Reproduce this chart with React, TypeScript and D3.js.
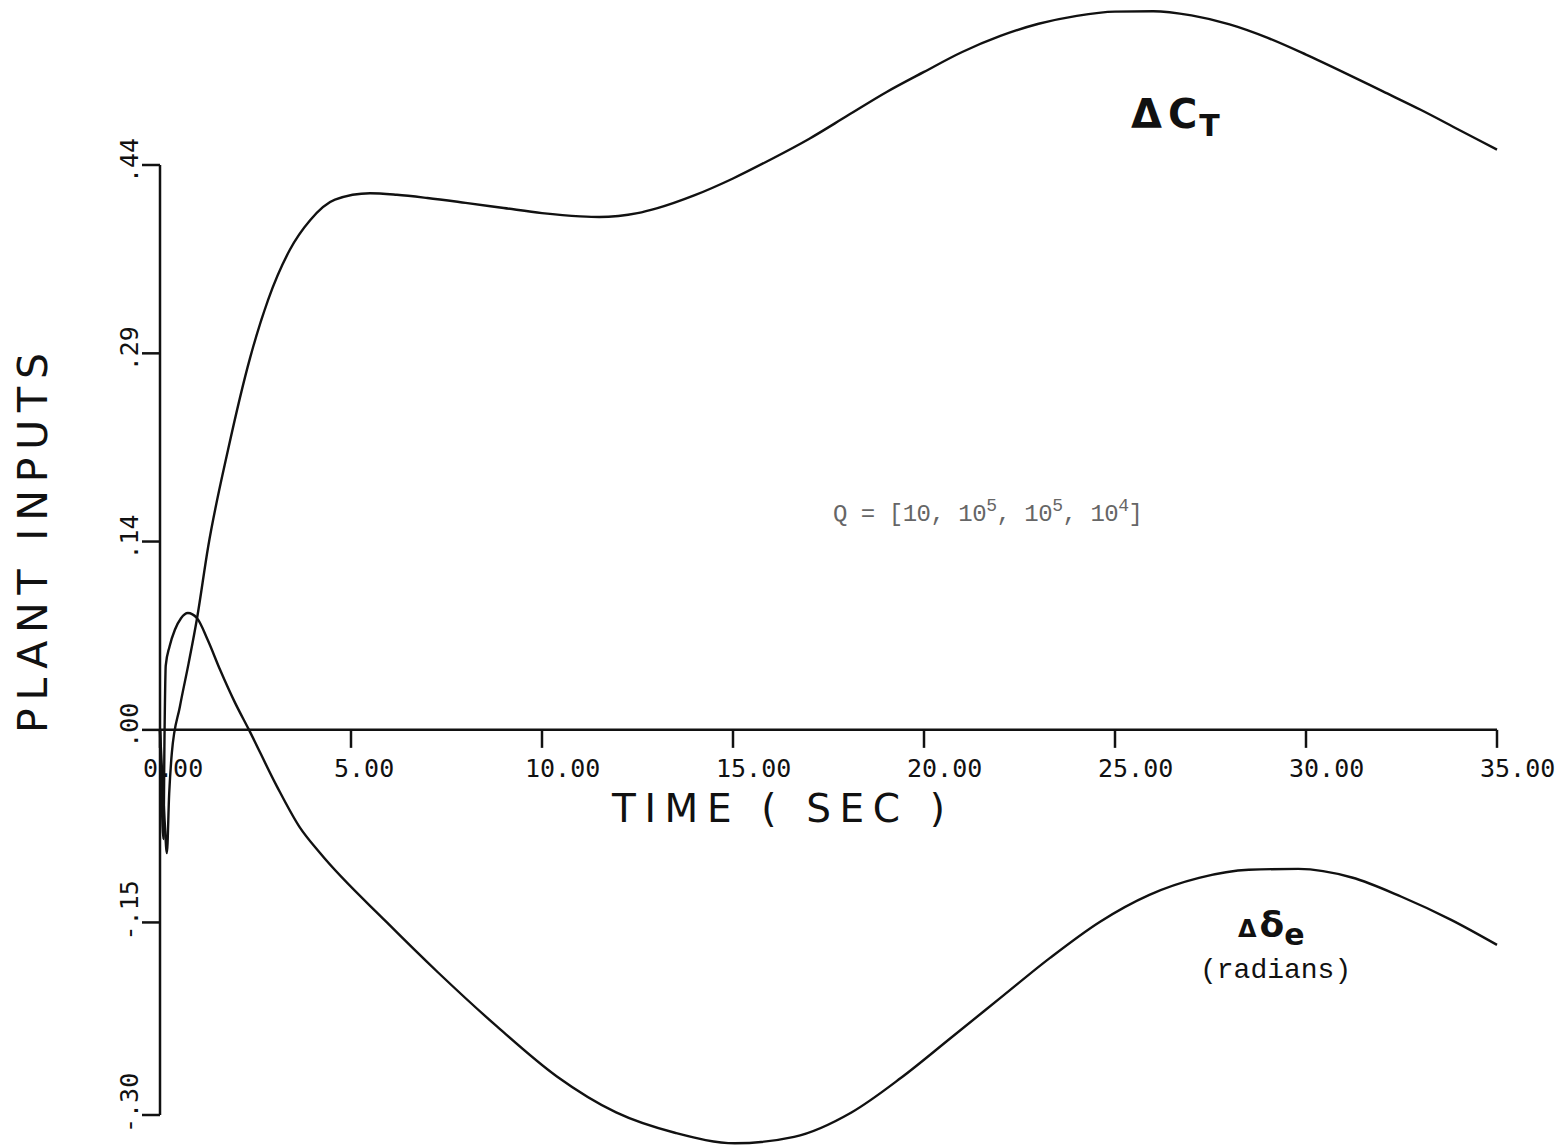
import React from "react";
import * as d3 from "d3";

// Time samples (s) and values for the thrust-coefficient input ΔC_T
const ctTime = [0, 0.05, 0.12, 0.18, 0.24, 0.31, 0.52, 0.75, 0.97, 1.26, 1.78, 2.36, 2.83, 3.4, 3.93, 4.58, 5.5, 6.2, 7.0, 8.0, 9.0, 10.0, 11.0, 11.5, 12.0, 12.5, 13.0, 14.0, 15.0, 16.0, 17.0, 18.0, 19.0, 20.0, 21.0, 22.0, 23.0, 24.0, 25.0, 26.0, 27.0, 28.0, 29.0, 30.0, 31.0, 32.0, 33.0, 34.0, 35.0];
const ctValue = [0, -0.03, -0.07, -0.096, -0.05, -0.018, 0.018, 0.052, 0.087, 0.1425, 0.218, 0.29, 0.335, 0.374, 0.397, 0.413, 0.418, 0.4168, 0.4143, 0.4105, 0.4065, 0.4025, 0.4, 0.3995, 0.4003, 0.4025, 0.4062, 0.4165, 0.4295, 0.4445, 0.4605, 0.4785, 0.4965, 0.5125, 0.528, 0.5405, 0.55, 0.5562, 0.5595, 0.5598, 0.5565, 0.5495, 0.539, 0.526, 0.512, 0.4975, 0.483, 0.4675, 0.452];

// Time samples (s) and values for the elevator input Δδe (radians)
const deTime = [0, 0.04, 0.09, 0.12, 0.15, 0.25, 0.39, 0.55, 0.73, 0.97, 1.25, 1.57, 1.95, 2.33, 3.06, 3.66, 4.19, 5.94, 7.28, 8.82, 10.39, 11.94, 13.5, 15.05, 16.6, 18.1, 19.4, 20.7, 22.0, 23.3, 24.6, 25.9, 27.2, 28.5, 29.8, 31.2, 32.5, 33.8, 35.0];
const deValue = [0, -0.05, -0.085, 0.0, 0.05, 0.065, 0.078, 0.087, 0.091, 0.087, 0.07, 0.047, 0.022, 0.0, -0.044, -0.076, -0.096, -0.15, -0.189, -0.231, -0.27, -0.298, -0.314, -0.322, -0.317, -0.298, -0.271, -0.24, -0.2088, -0.1776, -0.1496, -0.1285, -0.1153, -0.109, -0.1083, -0.115, -0.13, -0.148, -0.1675];

const xTicks = [0, 5, 10, 15, 20, 25, 30, 35];
const xTickLabels = ["0.00", "5.00", "10.00", "15.00", "20.00", "25.00", "30.00", "35.00"];
const yTicks = [-0.3, -0.15, 0, 0.1467, 0.2933, 0.44];
const yTickLabels = ["-.30", "-.15", ".00", ".14", ".29", ".44"];

const W = 1567;
const H = 1147;

export default function App() {
  const x = d3.scaleLinear().domain([0, 35]).range([160, 1497]);
  const y = d3.scaleLinear().domain([-0.3, 0.44]).range([1115, 165]);

  const line = d3
    .line<[number, number]>()
    .x((d) => x(d[0]))
    .y((d) => y(d[1]))
    .curve(d3.curveMonotoneX);

  const ctPath = line(ctTime.map((t, i) => [t, ctValue[i]] as [number, number])) || "";
  const dePath = line(deTime.map((t, i) => [t, deValue[i]] as [number, number])) || "";

  const x0 = x(0);
  const y0 = y(0);
  const ink = "#111";
  const mono = "'DejaVu Sans Mono', monospace";
  const sans = "'DejaVu Sans', sans-serif";

  return (
    <svg
      width={W}
      height={H}
      viewBox={`0 0 ${W} ${H}`}
      style={{ position: "absolute", left: 0, top: 0, background: "#fff", display: "block" }}
    >
      <rect x={0} y={0} width={W} height={H} fill="#fff" />

      {/* y axis */}
      <line x1={x0} x2={x0} y1={y(0.44)} y2={y(-0.3)} stroke={ink} strokeWidth={2.5} />
      {yTicks.map((v, i) => (
        <g key={`yt${i}`}>
          <line x1={x0 - 18} x2={x0} y1={y(v)} y2={y(v)} stroke={ink} strokeWidth={2.5} />
          <text
            transform={`translate(138,${y(v) + 18}) rotate(-90)`}
            fontFamily={mono}
            fontSize={25}
            fill={ink}
          >
            {yTickLabels[i]}
          </text>
        </g>
      ))}

      {/* x axis */}
      <line x1={x0} x2={x(35)} y1={y0} y2={y0} stroke={ink} strokeWidth={2.5} />
      {xTicks.map((t, i) => (
        <g key={`xt${i}`}>
          <line x1={x(t)} x2={x(t)} y1={y0} y2={y0 + 18} stroke={ink} strokeWidth={2.5} />
          <text x={x(t) - 17} y={777} fontFamily={mono} fontSize={25} fill={ink}>
            {xTickLabels[i]}
          </text>
        </g>
      ))}

      {/* axis titles */}
      <text x={612} y={822} fontFamily={sans} fontSize={39} textLength={333} lengthAdjust="spacing" fill={ink}>
        TIME ( SEC )
      </text>
      <text
        transform="translate(47,733) rotate(-90)"
        fontFamily={sans}
        fontSize={41}
        textLength={380}
        lengthAdjust="spacing"
        fill={ink}
      >
        PLANT INPUTS
      </text>

      {/* response curves */}
      <path d={ctPath} fill="none" stroke={ink} strokeWidth={2.4} strokeLinejoin="round" />
      <path d={dePath} fill="none" stroke={ink} strokeWidth={2.4} strokeLinejoin="round" />

      {/* curve annotations */}
      <text x={1131} y={128} fontFamily={sans} fontWeight="bold" fontSize={40} fill={ink}>
        <tspan>Δ</tspan>
        <tspan dx={6}>C</tspan>
        <tspan dx={2} dy={8} fontSize={30}>T</tspan>
      </text>
      <text x={1238} y={937} fontFamily={sans} fontWeight="bold" fontSize={30} fill={ink}>
        <tspan fontSize={24}>Δ</tspan>
        <tspan dx={3} fontSize={36}>δ</tspan>
        <tspan dy={8} fontSize={30}>e</tspan>
      </text>
      <text x={1200} y={978} fontFamily="'Liberation Mono', monospace" fontSize={28} fill={ink}>
        (radians)
      </text>

      {/* weighting matrix note */}
      <text x={833} y={521} fontFamily="'Liberation Mono', monospace" fontSize={24} fill="#666" textLength={310} lengthAdjust="spacing">
        <tspan>Q = [10, 10</tspan>
        <tspan dy={-10} fontSize={18}>5</tspan>
        <tspan dy={10}>, 10</tspan>
        <tspan dy={-10} fontSize={18}>5</tspan>
        <tspan dy={10}>, 10</tspan>
        <tspan dy={-10} fontSize={18}>4</tspan>
        <tspan dy={10}>]</tspan>
      </text>
    </svg>
  );
}
